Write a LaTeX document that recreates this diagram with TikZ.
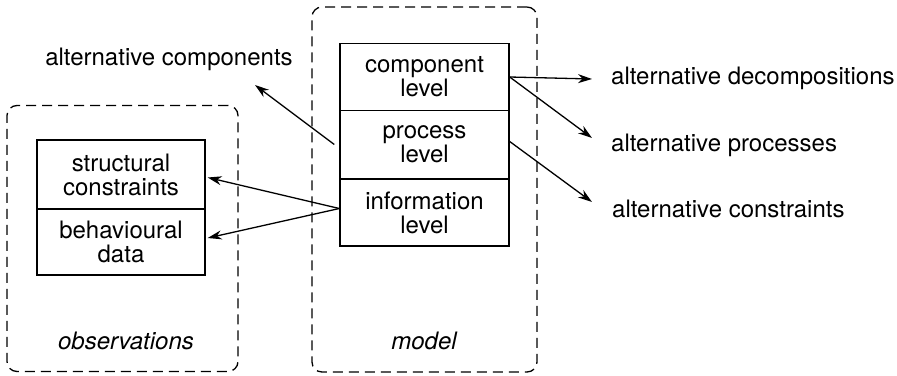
\documentclass[tikz,border=0pt]{standalone}
\usepackage{fontspec}
\setmainfont{TeX Gyre Heros}
\usetikzlibrary{arrows.meta,calc}
\begin{document}
\begin{tikzpicture}[x=1pt,y=-1pt,
  txt/.style={font=\fontsize{24}{24}\selectfont, inner sep=0pt},
  levelbox/.style={draw, line width=1.4pt, minimum width=169pt, align=center,
    font=\fontsize{24}{24}\selectfont, inner sep=0pt},
  group/.style={draw, line width=1.3pt, dash pattern=on 10pt off 6pt,
    rounded corners=10pt, inner sep=0pt},
  arr/.style={line width=1.3pt, -{Stealth[length=14pt,width=9pt,inset=4.5pt]}}]
  \useasboundingbox (0,0) rectangle (897,375);

  % dashed groups
  \node[group, minimum width=231pt, minimum height=266pt] (obs) at (122.5,238.5) {};
  \node[group, minimum width=225pt, minimum height=365pt] (mod) at (424.5,189.5) {};

  % model levels
  \node[levelbox, minimum height=67pt] (comp) at (424.5,77) {component\\level};
  \node[levelbox, minimum height=68pt] (proc) at (424.5,144.5) {process\\level};
  \node[levelbox, minimum height=67pt] (info) at (424.5,212.5) {information\\level};

  % observation boxes
  \node[levelbox, minimum width=168pt, minimum height=69pt] (struct) at (121,174.5) {structural\\constraints};
  \node[levelbox, minimum width=168pt, minimum height=66pt] (behav) at (121,242) {behavioural\\data};

  % group titles
  \node[txt, font=\fontsize{24}{24}\selectfont\itshape] (obsname) at (126,341) {observations};
  \node[txt, font=\fontsize{24}{24}\selectfont\itshape] (modname) at (424,341) {model};

  % outer labels
  \node[txt] (altcomp) at (169,59) {alternative components};
  \node[txt, anchor=west] (decomp) at (611,78) {alternative decompositions};
  \node[txt, anchor=west] (procs) at (611,145) {alternative processes};
  \node[txt, anchor=west] (cons) at (612,209) {alternative constraints};

  % arrow end points
  \coordinate (acTip) at (255,85);
  \coordinate (procTip) at (592,138);
  \coordinate (consTip) at (592,202);
  \coordinate (infoOut) at ($(info.west)+(0,-4)$);

  % connectors
  \draw[arr] ($(proc.west)+(-5,0)$) -- (acTip);
  \draw[arr] (infoOut) -- ($(struct.east)+(2,3)$);
  \draw[arr] (infoOut) -- ($(behav.east)+(2,-4)$);
  \draw[arr] (comp.east) -- ($(decomp.west)+(-19,1)$);
  \draw[arr] (comp.east) -- (procTip);
  \draw[arr] ($(proc.east)+(0,-3)$) -- (consTip);
\end{tikzpicture}
\end{document}
